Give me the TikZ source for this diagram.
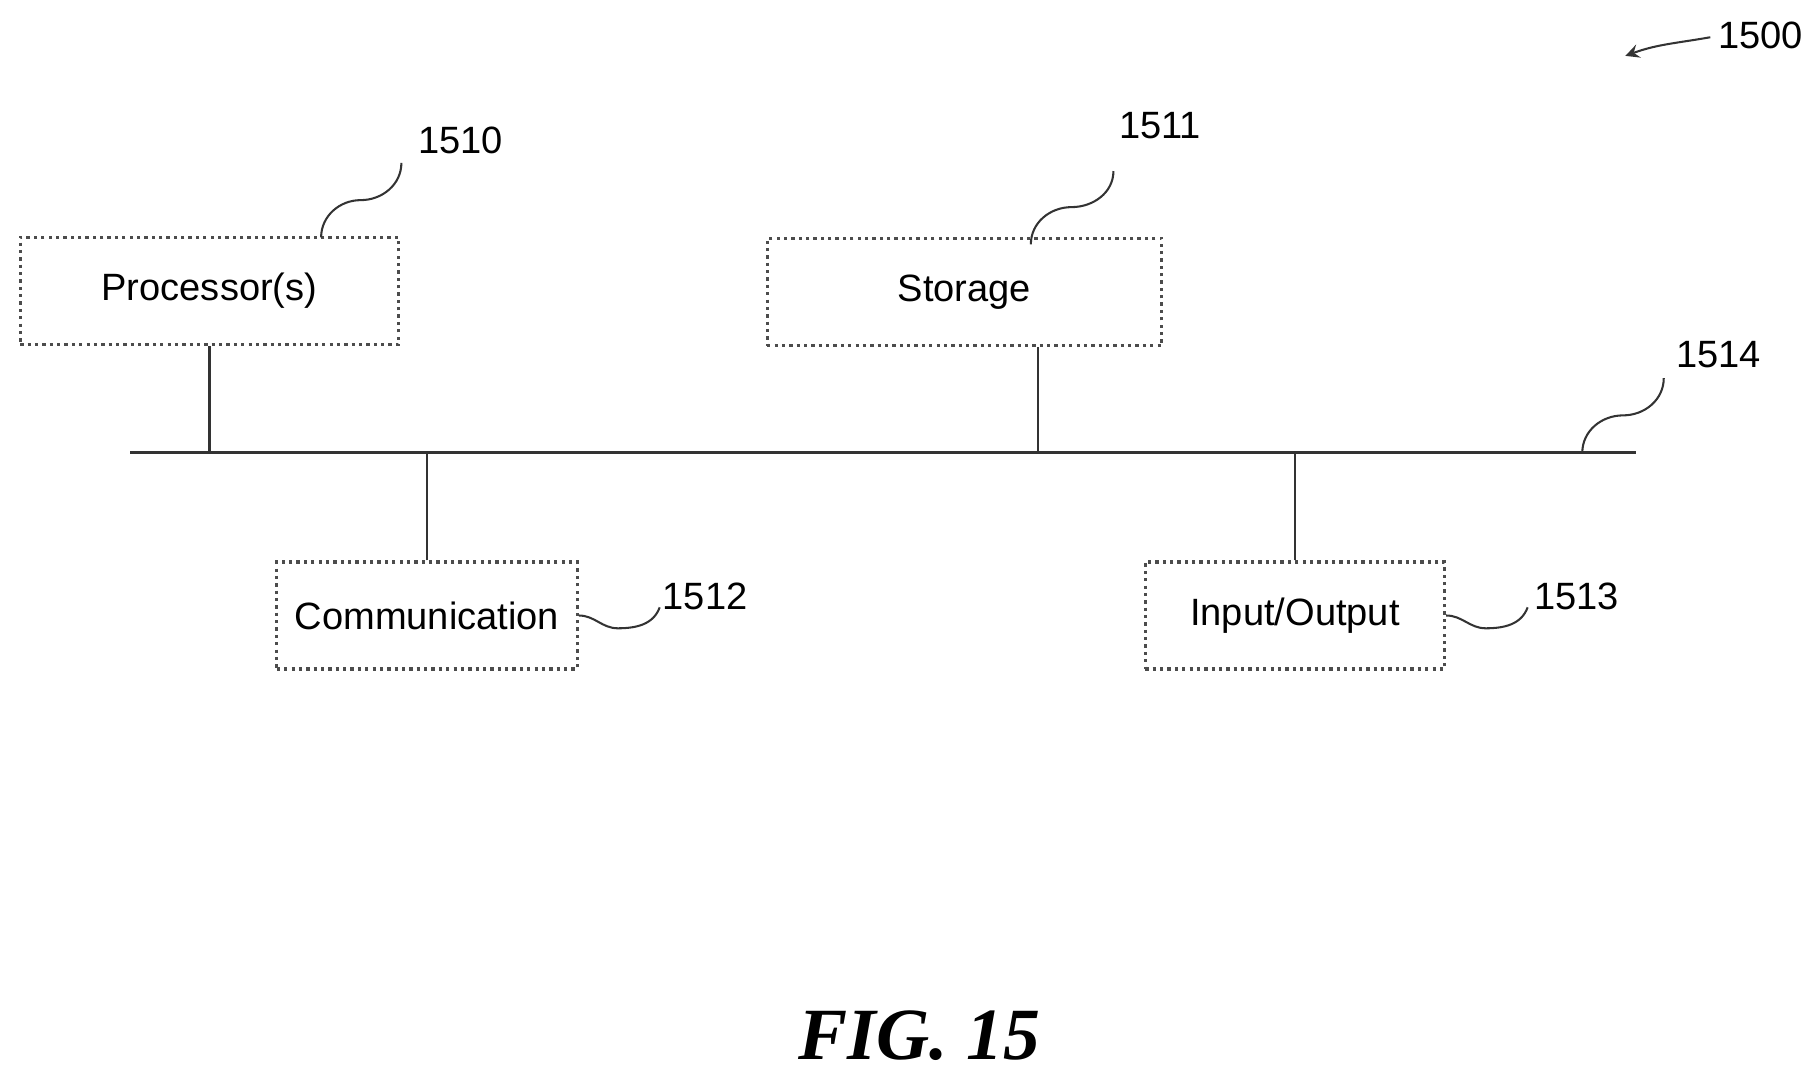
\documentclass[tikz,border=0pt]{standalone}
\usepackage{fontspec}
\setmainfont{Liberation Sans}
\newfontfamily\figfont{Liberation Serif}
\usetikzlibrary{positioning}
\begin{document}
\begin{tikzpicture}[x=0.01cm,y=-0.01cm,thick,
    block/.style={draw=black!70,densely dotted,minimum width=#1,minimum height=0.92cm,font=\fontsize{9.3}{11}\selectfont},
    ref/.style={font=\fontsize{9.3}{11}\selectfont},
    link/.style={draw=black!80,line width=0.6pt},
    lead/.style={draw=black!80,line width=0.5pt}]
\useasboundingbox (0,0) rectangle (1560,926);

% blocks
\node[block=3.25cm] (proc) at (180,250) {Processor(s)};
\node[block=3.39cm] (stor) at (829,251) {Storage};
\node[block=2.58cm] (comm) at (367,529) {Communication};
\node[block=2.57cm] (io) at (1113,529) {Input/Output};

% bus
\coordinate (busl) at (112,389);
\coordinate (busr) at (1406,389);
\draw[link] (busl) -- (busr);
\draw[link] (proc.south) -- (proc.south |- busl);
\draw[link] (stor.south -| 892,0) -- (892,389);
\draw[link] (comm.north) -- (comm.north |- busl);
\draw[link] (io.north) -- (io.north |- busl);

% reference numerals
\node[ref] (n1510) at (396,121) {1510};
\node[ref] (n1511) at (997,108) {1511};
\node[ref] (n1514) at (1477,305) {1514};
\node[ref] (n1512) at (606,513) {1512};
\node[ref] (n1513) at (1355,513) {1513};
\node[ref] (n1500) at (1513,30) {1500};

\coordinate (a1) at (276,204); \coordinate (b1) at (345,140);
\draw[lead] (a1) to[out=90,in=180] (310,172) to[out=0,in=270] (b1);
\coordinate (a2) at (886,210); \coordinate (b2) at (957,147);
\draw[lead] (a2) to[out=90,in=180] (921,178) to[out=0,in=270] (b2);
\coordinate (a4) at (1360,389); \coordinate (b4) at (1430,325);
\draw[lead] (a4) to[out=90,in=180] (1395,357) to[out=0,in=270] (b4);
\draw[lead] (comm.east) to[out=0,in=180] (531,540) to[out=0,in=250] (567,522);
\draw[lead] (io.east) to[out=0,in=180] (1277,540) to[out=0,in=250] (1313,522);
\coordinate (t0) at (1470,32); \coordinate (h0) at (1397,48);
\draw[lead,->,>=stealth] (t0) to[out=190,in=20] (h0);

% caption
\node[font=\figfont\bfseries\itshape\fontsize{18}{20}\selectfont] (cap) at (790,890) {FIG. 15};
\end{tikzpicture}
\end{document}
